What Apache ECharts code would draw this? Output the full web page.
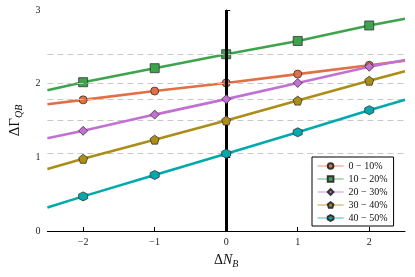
<!DOCTYPE html>
<html><head><meta charset="utf-8">
<script src="https://cdn.jsdelivr.net/npm/echarts@6/dist/echarts.min.js"></script>
<style>html,body{margin:0;padding:0;background:#fff}#c{width:415px;height:277px}</style>
</head><body><div id="c"></div>
<script>
// ---- data ----
const xValues = [-2, -1, 0, 1, 2];
const xExtent = [-2.5, 2.5];
const xTicks = [-2, -1, 0, 1, 2];
const yTicks = [0, 1, 2, 3];
const seriesNames = ['0 − 10%', '10 − 20%', '20 − 30%', '30 − 40%', '40 − 50%'];
const vals0to10  = [1.78, 1.90, 2.01, 2.13, 2.25];
const vals10to20 = [2.02, 2.21, 2.40, 2.58, 2.79];
const vals20to30 = [1.36, 1.58, 1.79, 2.01, 2.23];
const vals30to40 = [0.98, 1.24, 1.50, 1.77, 2.04];
const vals40to50 = [0.47, 0.76, 1.05, 1.34, 1.64];
// fitted-line values at the two plot edges (x = -2.5, x = 2.5)
const ends0to10  = [1.72, 2.31];
const ends10to20 = [1.91, 2.88];
const ends20to30 = [1.26, 2.32];
const ends30to40 = [0.84, 2.17];
const ends40to50 = [0.32, 1.78];

const allVals = [vals0to10, vals10to20, vals20to30, vals30to40, vals40to50];
const allEnds = [ends0to10, ends10to20, ends20to30, ends30to40, ends40to50];
const colors = ['#e26f46', '#3da44d', '#c271d2', '#ac8d18', '#00a9ad'];
const symbols = ['circle', 'rect', 'diamond',
  'path://M0,-1 L0.951,-0.309 L0.588,0.809 L-0.588,0.809 L-0.951,-0.309 Z',
  'path://M0,-1 L0.866,-0.5 L0.866,0.5 L0,1 L-0.866,0.5 L-0.866,-0.5 Z'];
const symSizes = [8, 9, 9, 9, 9];

const font = 'Liberation Serif';
const minus = v => String(v).replace('-', '\u2212');

const series = [{
  type: 'line', name: '_ref', data: [], z: 1, silent: true,
  markLine: {
    silent: true, symbol: 'none', animation: false,
    label: {show: false},
    data: allVals.map(v => ({yAxis: v[2], lineStyle: {color: '#c8c8c8', type: [6, 4], width: 1.2}}))
      .concat([{xAxis: 0, lineStyle: {color: '#000', type: 'solid', width: 3}}])
  }
}];
allVals.forEach((vals, i) => {
  const data = [{value: [xExtent[0], allEnds[i][0]], symbol: 'none'}]
    .concat(xValues.map((x, j) => [x, vals[j]]))
    .concat([{value: [xExtent[1], allEnds[i][1]], symbol: 'none'}]);
  series.push({
    type: 'line', name: seriesNames[i], data, z: 3 + i,
    color: colors[i],
    lineStyle: {width: 2.6, color: colors[i]},
    symbol: symbols[i], symbolSize: symSizes[i], showAllSymbol: true,
    itemStyle: {color: colors[i], borderColor: '#333', borderWidth: 0.8},
    animation: false
  });
});

const chart = echarts.init(document.getElementById('c'));
chart.setOption({
  animation: false,
  backgroundColor: '#fff',
  grid: {left: 44, right: 10, top: 10, bottom: 46},
  xAxis: {
    type: 'value', min: xExtent[0], max: xExtent[1],
    splitLine: {show: false},
    axisLine: {lineStyle: {color: '#000', width: 1}},
    axisTick: {inside: true, length: 4, customValues: xTicks, lineStyle: {color: '#000'}},
    axisLabel: {customValues: xTicks, formatter: minus, color: '#222', fontFamily: font, fontSize: 10, margin: 6},
    name: '{d|Δ}{a|N}{s|B}', nameLocation: 'middle', nameGap: 20,
    nameTextStyle: {rich: {
      d: {fontFamily: font, fontSize: 14, color: '#111'},
      a: {fontFamily: font, fontSize: 14, color: '#111', fontStyle: 'italic'},
      s: {fontFamily: font, fontSize: 10, color: '#111', fontStyle: 'italic', padding: [8, 0, 0, 0]}
    }}
  },
  yAxis: {
    type: 'value', min: 0, max: 3, interval: 1,
    splitLine: {show: false},
    axisLine: {show: true, lineStyle: {color: '#000', width: 1}},
    axisTick: {show: true, inside: true, length: 4, lineStyle: {color: '#000'}},
    axisLabel: {color: '#222', fontFamily: font, fontSize: 10, margin: 7},
    name: '{a|ΔΓ}{s|QB}', nameLocation: 'middle', nameGap: 19, nameRotate: 90,
    nameTextStyle: {rich: {
      a: {fontFamily: font, fontSize: 15, color: '#111'},
      s: {fontFamily: font, fontSize: 10, color: '#111', fontStyle: 'italic', padding: [8, 0, 0, 0]}
    }}
  },
  legend: {
    data: seriesNames, orient: 'vertical', left: 312, top: 157,
    backgroundColor: '#fff', borderColor: '#000', borderWidth: 1, borderRadius: 0,
    padding: [4, 6, 3, 5], itemGap: 3, itemWidth: 26, itemHeight: 7,
    lineStyle: {width: 1.2, opacity: 0.65},
    textStyle: {fontFamily: font, fontSize: 10, color: '#111'},
    z: 20
  },
  series
});
</script></body></html>
